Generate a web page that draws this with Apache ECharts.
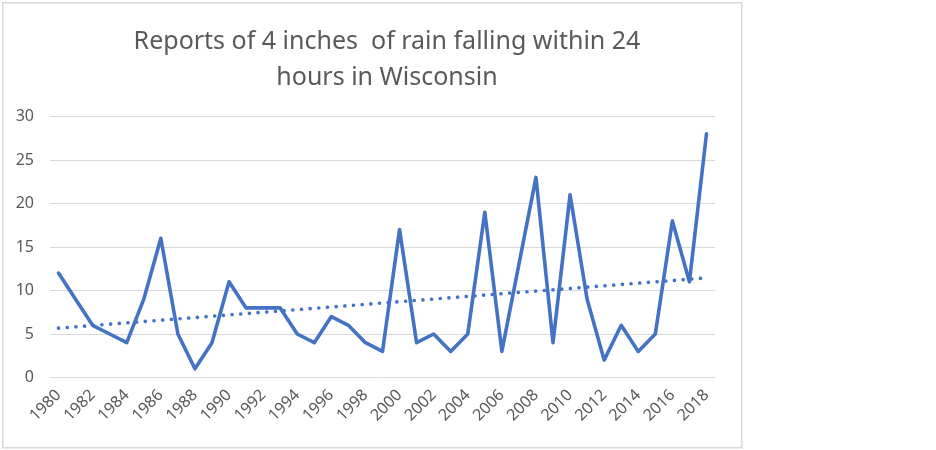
<!DOCTYPE html>
<html>
<head>
<meta charset="utf-8">
<script src="https://cdn.jsdelivr.net/npm/echarts@6/dist/echarts.min.js"></script>
<style>
html,body{margin:0;padding:0;background:#fff;}
#chart{width:936px;height:450px;}
</style>
</head>
<body>
<div id="chart"></div>
<script>
const years = [];
for (let y = 1980; y <= 2018; y++) years.push(String(y));
const reports = [12,9,6,5,4,9,16,5,1,4,11,8,8,8,5,4,7,6,4,3,17,4,5,3,5,19,3,13,23,4,21,9,2,6,3,5,18,11,28];
const yTicks = [0,5,10,15,20,25,30];
const titleText = 'Reports of 4 inches  of rain falling within 24\nhours in Wisconsin';

// linear trendline (least squares) as Excel's trendline
const n = reports.length;
let sx=0, sy=0, sxy=0, sxx=0;
reports.forEach((v,i)=>{ sx+=i; sy+=v; sxy+=i*v; sxx+=i*i; });
const slope = (n*sxy - sx*sy)/(n*sxx - sx*sx);
const intercept = (sy - slope*sx)/n;
const trend = reports.map((v,i)=> +(intercept + slope*i).toFixed(3));

const chart = echarts.init(document.getElementById('chart'), null, {renderer:'canvas'});
chart.setOption({
  animation:false,
  backgroundColor:'#fff',
  graphic:[{
    type:'rect', left:2, top:2, z:-1,
    shape:{width:739, height:445},
    style:{fill:'#fff', stroke:'#d9d9d9', lineWidth:1.5}
  }],
  title:{
    text:titleText,
    left:382, top:19, textAlign:'center',
    textStyle:{fontFamily:'Noto Sans', fontSize:25, fontWeight:'normal', color:'#595959', lineHeight:36}
  },
  grid:{left:50, right:221, top:116.5, bottom:72.5},
  xAxis:{
    type:'category', data:years, boundaryGap:true,
    axisLine:{show:true, lineStyle:{color:'#d9d9d9', width:1}},
    axisTick:{show:false},
    axisLabel:{interval:1, rotate:45, color:'#595959', fontFamily:'Noto Sans', fontSize:16, margin:15}
  },
  yAxis:{
    type:'value', min:yTicks[0], max:yTicks[yTicks.length-1], interval:5,
    axisLine:{show:false}, axisTick:{show:false},
    splitLine:{lineStyle:{color:'#d9d9d9', width:1}},
    axisLabel:{color:'#595959', fontFamily:'Noto Sans', fontSize:16, margin:16}
  },
  series:[
    {type:'line', data:reports, symbol:'none', lineStyle:{color:'#4472C4', width:3.6, join:'round', cap:'round'}, z:3},
    {type:'line', data:trend, symbol:'none', lineStyle:{color:'#4472C4', width:3.6, type:[0.1,8.6], cap:'round'}, z:2}
  ]
});
</script>
</body>
</html>
